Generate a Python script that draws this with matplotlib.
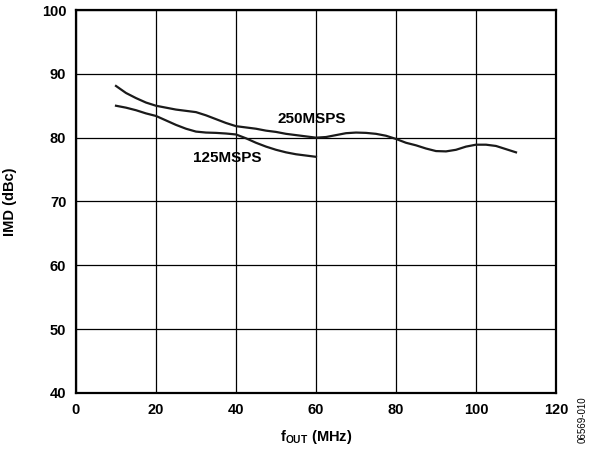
import matplotlib.pyplot as plt

plt.rcParams['font.family'] = ['Liberation Sans', 'DejaVu Sans']
plt.rcParams['font.weight'] = 'bold'
plt.rcParams['mathtext.fontset'] = 'custom'
plt.rcParams['mathtext.rm'] = 'Liberation Sans:bold'
plt.rcParams['mathtext.bf'] = 'Liberation Sans:bold'

# data
freq_250 = [10, 12.5, 15, 17.5, 20, 22.5, 25, 27.5, 30, 32.5, 35, 37.5, 40, 42.5, 45, 47.5,
            50, 52.5, 55, 57.5, 60, 62.5, 65, 67.5, 70, 72.5, 75, 77.5, 80, 82.5, 85, 87.5,
            90, 92.5, 95, 97.5, 100, 102.5, 105, 107.5, 110]
imd_250 = [88.1, 87.0, 86.2, 85.5, 85.0, 84.7, 84.4, 84.2, 84.0, 83.5, 82.9, 82.3, 81.8, 81.6,
           81.4, 81.1, 80.9, 80.6, 80.4, 80.2, 80.0, 80.1, 80.4, 80.7, 80.8, 80.75, 80.6, 80.3,
           79.8, 79.2, 78.8, 78.3, 77.9, 77.85, 78.1, 78.6, 78.9, 78.9, 78.7, 78.2, 77.7]

freq_125 = [10, 12.5, 15, 17.5, 20, 22.5, 25, 27.5, 30, 32.5, 35, 37.5, 40, 42.5, 45, 47.5,
            50, 52.5, 55, 57.5, 60]
imd_125 = [85.0, 84.7, 84.3, 83.8, 83.4, 82.7, 82.0, 81.4, 80.95, 80.8, 80.75, 80.65, 80.5,
           79.9, 79.2, 78.6, 78.1, 77.7, 77.4, 77.2, 77.0]

x_ticks = [0, 20, 40, 60, 80, 100, 120]
y_ticks = [40, 50, 60, 70, 80, 90, 100]

fig = plt.figure(figsize=[5.9, 4.53], dpi=100)
ax = fig.add_axes([76 / 590, 1 - 393 / 453, 480 / 590, 383 / 453])

ax.plot(freq_250, imd_250, color='#1a1a1a', linewidth=1.6)
ax.plot(freq_125, imd_125, color='#1a1a1a', linewidth=1.6)

ax.text(50.3, 82.9, '250MSPS', fontsize=11, fontweight='bold', va='center', ha='left')
ax.text(37.7, 76.8, '125MSPS', fontsize=11, fontweight='bold', va='center', ha='center')

ax.set_xlim(0, 120)
ax.set_ylim(40, 100)
ax.set_xticks(x_ticks)
ax.set_yticks(y_ticks)
ax.tick_params(length=0, labelsize=10.5, pad=7)
ax.grid(True, color='black', linewidth=0.9)
for sp in ax.spines.values():
    sp.set_linewidth(1.6)

ax.set_xlabel(r'f$_{\mathrm{OUT}}$ (MHz)', fontsize=10.5, fontweight='bold', labelpad=8)
ax.set_ylabel('IMD (dBc)', fontsize=10.5, fontweight='bold', labelpad=18)

fig.text(583 / 590, 1 - 420 / 453, '06569-010', rotation=90, fontsize=7, fontweight='normal',
         ha='center', va='center')

fig.savefig('out.png', dpi=100)
